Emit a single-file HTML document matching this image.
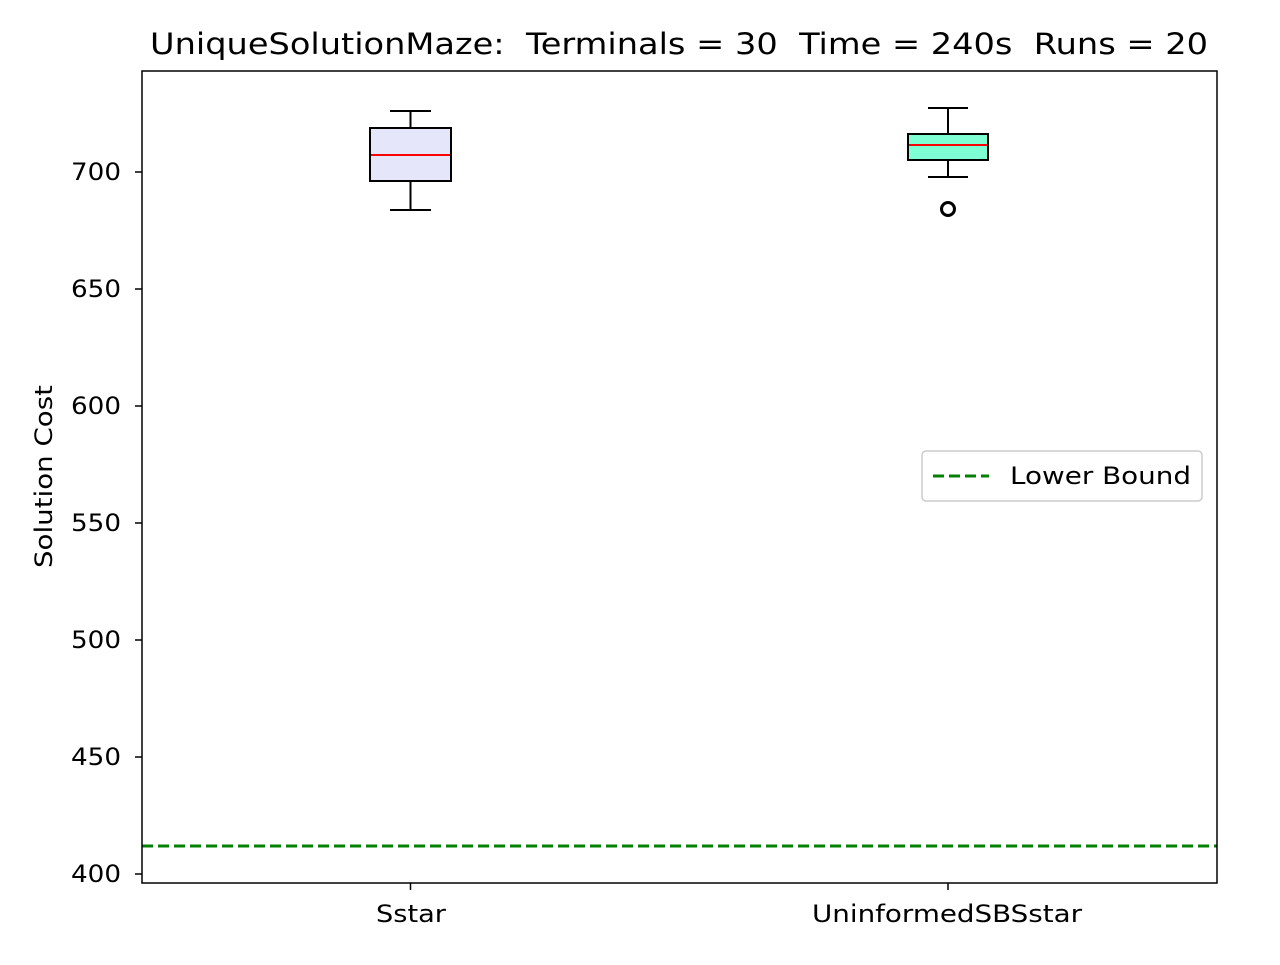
<!DOCTYPE html>
<html><head><meta charset="utf-8"><style>
body{margin:0;background:#fff;}
svg text{font-family:"DejaVu Sans","Liberation Sans",sans-serif;fill:#000;white-space:pre;}
</style></head><body>
<svg width="1280" height="960" viewBox="0 0 1280 960" xmlns="http://www.w3.org/2000/svg" xml:space="preserve">
<rect width="1280" height="960" fill="#fff"/>
<text x="150" y="54" font-size="29" textLength="1058" lengthAdjust="spacingAndGlyphs">UniqueSolutionMaze:  Terminals = 30  Time = 240s  Runs = 20</text>
<line x1="142" y1="846" x2="1217" y2="846" stroke="#008000" stroke-width="3" stroke-dasharray="11,5"/>
<line x1="410.5" y1="111" x2="410.5" y2="128" stroke="#000" stroke-width="2"/>
<line x1="410.5" y1="181" x2="410.5" y2="210" stroke="#000" stroke-width="2"/>
<line x1="390" y1="111" x2="431" y2="111" stroke="#000" stroke-width="2"/>
<line x1="390" y1="210" x2="431" y2="210" stroke="#000" stroke-width="2"/>
<rect x="370" y="128" width="81" height="53" fill="#e6e6fa" stroke="#000" stroke-width="2"/>
<line x1="371" y1="155" x2="450" y2="155" stroke="#ff0000" stroke-width="2"/>
<line x1="948" y1="108" x2="948" y2="134" stroke="#000" stroke-width="2"/>
<line x1="948" y1="160" x2="948" y2="177" stroke="#000" stroke-width="2"/>
<line x1="928" y1="108" x2="968" y2="108" stroke="#000" stroke-width="2"/>
<line x1="928" y1="177" x2="968" y2="177" stroke="#000" stroke-width="2"/>
<rect x="908" y="134" width="80" height="26" fill="#7fffd4" stroke="#000" stroke-width="2"/>
<line x1="909" y1="145" x2="987" y2="145" stroke="#ff0000" stroke-width="2"/>
<circle cx="948" cy="209" r="6.5" fill="none" stroke="#000" stroke-width="3"/>
<rect x="142" y="71" width="1075" height="812" fill="none" stroke="#000" stroke-width="1.5"/>
<g stroke="#000" stroke-width="1.5">
<line x1="135" y1="172" x2="142" y2="172"/><line x1="135" y1="289" x2="142" y2="289"/>
<line x1="135" y1="406" x2="142" y2="406"/><line x1="135" y1="523" x2="142" y2="523"/>
<line x1="135" y1="640" x2="142" y2="640"/><line x1="135" y1="757" x2="142" y2="757"/>
<line x1="135" y1="874" x2="142" y2="874"/>
<line x1="410.5" y1="883" x2="410.5" y2="890"/><line x1="948" y1="883" x2="948" y2="890"/>
</g>
<g font-size="24">
<text x="71" y="180" textLength="50" lengthAdjust="spacingAndGlyphs">700</text>
<text x="71" y="297" textLength="50" lengthAdjust="spacingAndGlyphs">650</text>
<text x="71" y="414" textLength="50" lengthAdjust="spacingAndGlyphs">600</text>
<text x="71" y="531" textLength="50" lengthAdjust="spacingAndGlyphs">550</text>
<text x="71" y="648" textLength="50" lengthAdjust="spacingAndGlyphs">500</text>
<text x="71" y="765" textLength="50" lengthAdjust="spacingAndGlyphs">450</text>
<text x="71" y="882" textLength="50" lengthAdjust="spacingAndGlyphs">400</text>
<text x="376" y="922" textLength="70" lengthAdjust="spacingAndGlyphs">Sstar</text>
<text x="812" y="922" textLength="270" lengthAdjust="spacingAndGlyphs">UninformedSBSstar</text>
<text x="0" y="0" textLength="183" lengthAdjust="spacingAndGlyphs" transform="translate(52 568) rotate(-90)">Solution Cost</text>
</g>
<rect x="922" y="451" width="280" height="50" rx="4" fill="#fff" stroke="#ccc" stroke-width="1.5"/>
<line x1="933" y1="476" x2="989" y2="476" stroke="#008000" stroke-width="3" stroke-dasharray="11,5"/>
<text x="1010" y="484" font-size="24" textLength="181" lengthAdjust="spacingAndGlyphs">Lower Bound</text>
</svg>
</body></html>
